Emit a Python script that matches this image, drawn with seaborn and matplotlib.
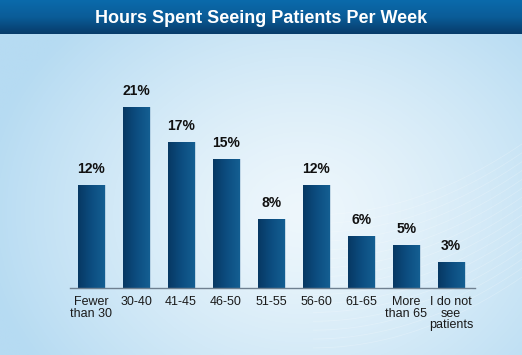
import numpy as np
import matplotlib
matplotlib.use("Agg")
import matplotlib.pyplot as plt
import seaborn as sns
import pandas as pd
from matplotlib.colors import LinearSegmentedColormap

# ---- data ----
categories = ["Fewer\nthan 30", "30-40", "41-45", "46-50", "51-55",
              "56-60", "61-65", "More\nthan 65", "I do not\nsee\npatients"]
values = [12, 21, 17, 15, 8, 12, 6, 5, 3]
title = "Hours Spent Seeing Patients Per Week"

sns.set_theme(style="white")
plt.rcParams["font.family"] = ["Liberation Sans", "DejaVu Sans"]

W, H = 522, 355
fig = plt.figure(figsize=(W / 100, H / 100), dpi=100)

# ---- background gradient ----
bg = fig.add_axes([0, 0, 1, 1], zorder=0)
bg.set_axis_off()
xx, yy = np.meshgrid(np.linspace(0, 1, 400), np.linspace(0, 1, 300))
edge = np.array([0xb6, 0xdb, 0xf2]) / 255
center = np.array([0xee, 0xf7, 0xfc]) / 255
r = np.sqrt(((xx - 0.58) / 0.62) ** 2 + ((yy - 0.40) / 0.75) ** 2)
t = np.clip(r, 0, 1) ** 1.3
img = center[None, None, :] * (1 - t[..., None]) + edge[None, None, :] * t[..., None]
bg.imshow(img, extent=[0, 1, 0, 1], aspect="auto", origin="lower")
# faint swoosh lines at right bottom
for k in range(16):
    th = np.linspace(0, 1, 200)
    xs = 0.6 + 0.42 * th
    ys = 0.02 + 0.025 * k + 0.22 * th ** 2
    bg.plot(xs, ys, color="white", alpha=0.22, lw=0.6)
bg.set_xlim(0, 1)
bg.set_ylim(0, 1)

# ---- title bar ----
tb_h = 34 / H
tbar = fig.add_axes([0, 1 - tb_h, 1, tb_h], zorder=1)
tbar.set_axis_off()
grad = np.linspace(0, 1, 50)[:, None]
cmap_t = LinearSegmentedColormap.from_list("t", ["#083c6a", "#0a5c98", "#0b6aab"])
tbar.imshow(grad, extent=[0, 1, 0, 1], aspect="auto", origin="lower", cmap=cmap_t)
tbar.set_xlim(0, 1)
tbar.set_ylim(0, 1)
tbar.text(0.5, 0.47, title, color="white", fontsize=13, fontweight="bold",
          ha="center", va="center")

# ---- main axes ----
ax_l, ax_r, ax_b, ax_t = 70, 475, 288, 60
ax = fig.add_axes([ax_l / W, (H - ax_b) / H, (ax_r - ax_l) / W, (ax_b - ax_t) / H], zorder=2)
ax.patch.set_alpha(0)

df = pd.DataFrame({"cat": categories, "val": values})
sns.barplot(data=df, x="cat", y="val", ax=ax, color="#0b4a7a", width=0.58,
            saturation=1, edgecolor="none")

cmap_b = LinearSegmentedColormap.from_list("b", ["#073863", "#0c4d80", "#145f92"])
for p, v in zip(ax.patches, values):
    x0, w, h = p.get_x(), p.get_width(), p.get_height()
    # soft shadow
    ax.add_patch(plt.Rectangle((x0 + w, 0), 0.05, h, color="#7fa6c4", alpha=0.35,
                               lw=0, zorder=1))
    im = ax.imshow(np.linspace(0, 1, 64)[None, :], extent=[x0, x0 + w, 0, h],
                   aspect="auto", cmap=cmap_b, zorder=2)
    im.set_clip_path(p)
    ax.text(x0 + w / 2, h + 1.05, f"{v}%", ha="center", va="bottom",
            fontsize=10, fontweight="bold", color="#111111")

ax.set_xlim(-0.467, 8.53)
ax.set_ylim(0, (ax_b - ax_t) / 8.6)
ax.set_xlabel("")
ax.set_ylabel("")
ax.set_yticks([])
for s in ["top", "right", "left"]:
    ax.spines[s].set_visible(False)
ax.spines["bottom"].set_color("#6f8090")
ax.spines["bottom"].set_linewidth(1)
ax.tick_params(axis="x", length=0, pad=6, labelsize=9, labelcolor="#1a1a1a")
for lbl in ax.get_xticklabels():
    lbl.set_linespacing(0.95)
    lbl.set_va("top")

fig.savefig("out.png", dpi=100)
